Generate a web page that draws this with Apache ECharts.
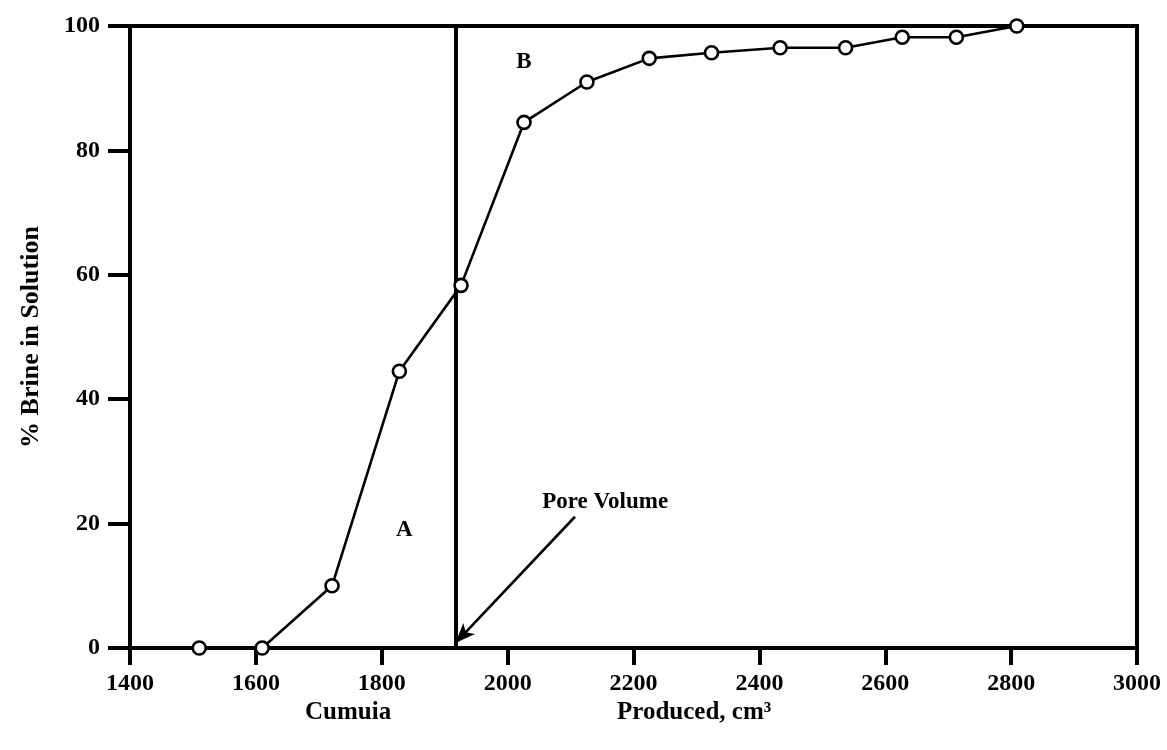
<!DOCTYPE html>
<html>
<head>
<meta charset="utf-8">
<script src="https://cdn.jsdelivr.net/npm/echarts@6/dist/echarts.min.js"></script>
<style>
html,body{margin:0;padding:0;background:#fff;}
#chart{width:1167px;height:750px;}
</style>
</head>
<body>
<div id="chart"></div>
<script>
// ---- data ----
const volumeProduced = [1510, 1610, 1721, 1828, 1926, 2026, 2126, 2225, 2324, 2433, 2537, 2627, 2713, 2809];
const brinePercent   = [0, 0, 10, 44.5, 58.3, 84.5, 91, 94.8, 95.7, 96.5, 96.5, 98.2, 98.2, 100];
const xTicks = [1400, 1600, 1800, 2000, 2200, 2400, 2600, 2800, 3000];
const yTicks = [0, 20, 40, 60, 80, 100];
const poreVolume = 1918;
const arrowStart = [2107, 21.1];
const arrowEnd = [1917, 0.8];
const regionLabels = [
  {name: 'A', coord: [1836, 19]},
  {name: 'B', coord: [2026, 94.2]}
];
const poreLabel = {name: 'Pore Volume', coord: [2155, 23.5]};
const yAxisTitle = '% Brine in Solution';
const xTitleLeft = 'Cumuia';
const xTitleRight = 'Produced, cm³';

const font = 'Liberation Serif, Times New Roman, serif';
const chart = echarts.init(document.getElementById('chart'), null, {renderer: 'canvas'});
chart.setOption({
  animation: false,
  backgroundColor: '#fff',
  grid: {left: 130, right: 30, top: 26, bottom: 102, show: true, borderColor: '#000', borderWidth: 4, backgroundColor: 'transparent'},
  xAxis: {
    type: 'value', min: xTicks[0], max: xTicks[xTicks.length - 1], interval: 200,
    splitLine: {show: false},
    axisLine: {show: true, lineStyle: {color: '#000', width: 4}},
    axisTick: {show: true, inside: false, length: 17, lineStyle: {color: '#000', width: 4}},
    axisLabel: {color: '#000', fontFamily: font, fontSize: 24, fontWeight: 'bold', margin: 24,
      formatter: v => String(v)}
  },
  yAxis: {
    type: 'value', min: yTicks[0], max: yTicks[yTicks.length - 1], interval: 20,
    splitLine: {show: false},
    axisLine: {show: true, lineStyle: {color: '#000', width: 4}},
    axisTick: {show: true, inside: false, length: 22, lineStyle: {color: '#000', width: 4}},
    axisLabel: {color: '#000', fontFamily: font, fontSize: 24, fontWeight: 'bold', margin: 30,
      formatter: v => String(v)},
    name: yAxisTitle, nameLocation: 'middle', nameGap: 86, nameRotate: 90,
    nameTextStyle: {color: '#000', fontFamily: font, fontSize: 26, fontWeight: 'bold'}
  },
  graphic: [
    {type: 'text', left: 305, top: 700, style: {text: xTitleLeft, font: 'bold 25px ' + font, fill: '#000'}},
    {type: 'text', left: 617, top: 700, style: {text: xTitleRight, font: 'bold 25px ' + font, fill: '#000'}}
  ],
  series: [
    {
      type: 'line',
      data: volumeProduced.map((v, i) => [v, brinePercent[i]]),
      symbol: 'circle', symbolSize: 13,
      lineStyle: {color: '#000', width: 2.6},
      itemStyle: {color: '#fff', borderColor: '#000', borderWidth: 2.6},
      z: 5,
      markLine: {
        silent: true, symbol: ['none', 'none'], label: {show: false},
        lineStyle: {color: '#000', width: 4, type: 'solid'},
        data: [{xAxis: poreVolume}]
      }
    },
    {
      type: 'line', data: [], silent: true,
      markLine: {
        silent: true, symbol: ['none', 'arrow'], symbolSize: [12, 20], label: {show: false},
        lineStyle: {color: '#000', width: 2.6, type: 'solid'},
        data: [[{coord: arrowStart}, {coord: arrowEnd}]]
      },
      markPoint: {
        silent: true, symbol: 'circle', symbolSize: 0,
        label: {show: true, position: 'inside', color: '#000', fontFamily: font, fontWeight: 'bold', fontSize: 23},
        data: regionLabels.map(d => ({name: d.name, coord: d.coord, label: {formatter: d.name}})).concat([
          {name: poreLabel.name, coord: poreLabel.coord, label: {formatter: poreLabel.name, fontSize: 23}}
        ])
      }
    }
  ]
});
</script>
</body>
</html>
